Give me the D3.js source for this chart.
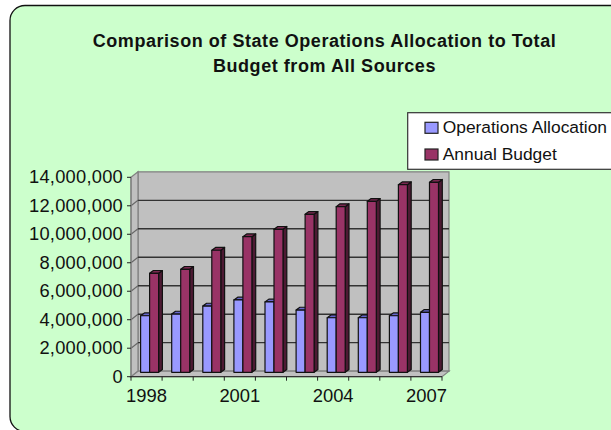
<!DOCTYPE html>
<html>
<head>
<meta charset="utf-8">
<script src="https://cdn.jsdelivr.net/npm/d3@7"></script>
<style>
html,body{margin:0;padding:0;background:#fff;overflow:hidden}
svg{display:block}
text{font-family:"Liberation Sans",Arial,sans-serif;fill:#111}
</style>
</head>
<body>
<svg id="chart" width="611" height="430"></svg>
<script>
// Budget figures by fiscal year
const years = [1998,1999,2000,2001,2002,2003,2004,2005,2006,2007];
const operations = [3970000,4090000,4650000,5080000,4940000,4370000,3830000,3830000,3970000,4210000];
const budget = [6950000,7230000,8570000,9520000,10040000,11090000,11630000,12000000,13170000,13340000];
const yTicks = [0,2000000,4000000,6000000,8000000,10000000,12000000,14000000];
const labelledYears = [1998,2001,2004,2007];
const titleLines = ["Comparison of State Operations Allocation to Total","Budget from All Sources"];
const seriesNames = ["Operations Allocation","Annual Budget"];

const svg = d3.select("#chart");
const fmt = d3.format(",");

// Chart area: rounded panel running off the right edge
svg.append("rect").attr("x",10).attr("y",5.5).attr("width",640).attr("height",426).attr("rx",15)
  .attr("fill","#ccffcc").attr("stroke","#111").attr("stroke-width",1.3);

const frontLeft = 131, frontRight = 442, frontBase = 376.7, frontTop = 177.3;
const depthX = 7, depthY = -5.5;
const x = d3.scaleBand().domain(years).range([frontLeft,frontRight]);
const y = d3.scaleLinear().domain([0,14000000]).range([frontBase,frontTop]);

// Back wall, side wall and floor of the 3-D box
const wall = svg.append("g");
const pts = a => a.map(p=>p.join(",")).join(" ");
const faces = [
  [[frontLeft+depthX,y(14000000)+depthY],[frontRight+depthX,y(14000000)+depthY],[frontRight+depthX,y(0)+depthY],[frontLeft+depthX,y(0)+depthY]],
  [[frontLeft,y(14000000)],[frontLeft+depthX,y(14000000)+depthY],[frontLeft+depthX,y(0)+depthY],[frontLeft,y(0)]],
  [[frontLeft,y(0)],[frontLeft+depthX,y(0)+depthY],[frontRight+depthX,y(0)+depthY],[frontRight,y(0)]]
];
wall.selectAll("polygon").data(faces).join("polygon")
  .attr("fill","#c0c0c0").attr("stroke","#808080").attr("stroke-width",1.2)
  .attr("points",pts);

// Gridlines wrap from the side wall across the back wall
const grid = yTicks.filter(d=>d>0 && d<14000000);
wall.selectAll(".gb").data(grid).join("line")
  .attr("x1",frontLeft+depthX).attr("x2",frontRight+depthX)
  .attr("y1",d=>y(d)+depthY).attr("y2",d=>y(d)+depthY).attr("stroke","#333").attr("stroke-width",1.3);
wall.selectAll(".gs").data(grid).join("line")
  .attr("x1",frontLeft).attr("x2",frontLeft+depthX)
  .attr("y1",d=>y(d)).attr("y2",d=>y(d)+depthY).attr("stroke","#666").attr("stroke-width",1.1);

// Bars with top and side faces
const bandOffset = 9.6, barW = 9, barDX = 3.8, barDY = -2.8, barLift = -4.4;
const palette = [
  {front:"#9999ff",top:"#6666cc",side:"#333366"},
  {front:"#993366",top:"#7a2850",side:"#4d1a33"}
];
function drawBars(values, idx){
  const c = palette[idx];
  const g = svg.append("g");
  years.forEach((yr,i)=>{
    const x0 = x(yr)+bandOffset+idx*barW;
    const top = y(values[i])+barLift, base = y(0)+barLift;
    const b = g.append("g").attr("stroke","#111").attr("stroke-width",1.2).attr("stroke-linejoin","round");
    b.append("polygon").attr("fill",c.side)
      .attr("points",pts([[x0+barW,top],[x0+barW+barDX,top+barDY],[x0+barW+barDX,base+barDY],[x0+barW,base]]));
    b.append("polygon").attr("fill",c.top)
      .attr("points",pts([[x0,top],[x0+barDX,top+barDY],[x0+barW+barDX,top+barDY],[x0+barW,top]]));
    b.append("rect").attr("x",x0).attr("y",top).attr("width",barW).attr("height",base-top).attr("fill",c.front);
  });
}
drawBars(operations,0);
drawBars(budget,1);

// Value axis with ticks outside the side wall
const yAxis = svg.append("g");
yAxis.append("line").attr("x1",frontLeft).attr("x2",frontLeft).attr("y1",y(14000000)).attr("y2",y(0)).attr("stroke","#808080").attr("stroke-width",1.2);
yAxis.selectAll("line.t").data(yTicks).join("line").attr("class","t")
  .attr("x1",frontLeft-4).attr("x2",frontLeft).attr("y1",d=>y(d)).attr("y2",d=>y(d)).attr("stroke","#222");
yAxis.selectAll("text").data(yTicks).join("text")
  .attr("x",frontLeft-8).attr("y",d=>y(d)+6).attr("text-anchor","end").attr("font-size",18.3).attr("letter-spacing",0.25)
  .text(d=>fmt(d));

// Year axis: tick at each band boundary, label on every third year
const xAxis = svg.append("g");
xAxis.append("line").attr("x1",frontLeft).attr("x2",frontRight).attr("y1",y(0)).attr("y2",y(0)).attr("stroke","#222");
xAxis.selectAll("line.t").data(d3.range(years.length+1)).join("line").attr("class","t")
  .attr("x1",i=>frontLeft+i*x.step()).attr("x2",i=>frontLeft+i*x.step())
  .attr("y1",y(0)).attr("y2",y(0)+4).attr("stroke","#222");
xAxis.selectAll("text").data(labelledYears).join("text")
  .attr("x",d=>x(d)+x.bandwidth()/2).attr("y",401.5).attr("text-anchor","middle").attr("font-size",18.4)
  .text(d=>d);

// Title
svg.append("g").selectAll("text").data(titleLines).join("text")
  .attr("x",324.5).attr("y",(d,i)=>47+i*24.7).attr("text-anchor","middle")
  .attr("font-size",18).attr("font-weight","bold").attr("letter-spacing",0.55).text(d=>d);

// Legend box
const legend = svg.append("g");
legend.append("rect").attr("x",407.7).attr("y",112.7).attr("width",230).attr("height",56.6)
  .attr("fill","#fff").attr("stroke","#333").attr("stroke-width",1.2);
seriesNames.forEach((name,i)=>{
  const ly = 122.3+i*26.7;
  legend.append("rect").attr("x",425).attr("y",ly).attr("width",13).attr("height",11)
    .attr("fill",palette[i].front).attr("stroke","#222").attr("stroke-width",1.2);
  legend.append("text").attr("x",442.7).attr("y",ly+11).attr("font-size",17.4).text(name);
});
</script>
</body>
</html>
